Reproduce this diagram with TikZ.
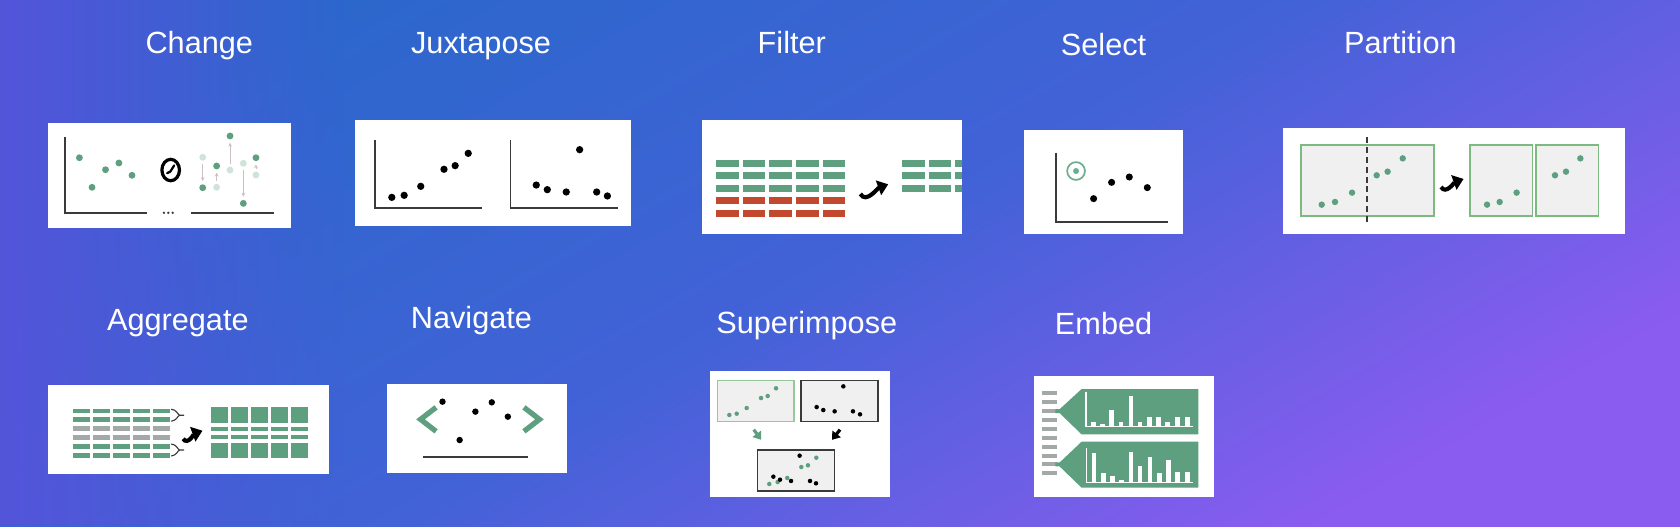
\documentclass[tikz,border=0pt]{standalone}
\usepackage{fontspec}
\setmainfont{Liberation Sans}
\usetikzlibrary{arrows.meta,fadings}
\definecolor{bgtop}{HTML}{2C67CC}
\definecolor{bgmid}{HTML}{4262D7}
\definecolor{bgbot}{HTML}{8B5CF0}
\definecolor{bgleft}{HTML}{5455DA}
\definecolor{icgreen}{HTML}{5E9F80}
\definecolor{icpale}{HTML}{CFE4D9}
\definecolor{icred}{HTML}{C2492E}
\definecolor{icgray}{HTML}{A3A9A6}
\definecolor{icdark}{HTML}{3A3A3A}
\definecolor{icfill}{HTML}{F0F0F0}
\definecolor{icframe}{HTML}{7DBA80}
\definecolor{icring}{HTML}{6AAE8E}
\definecolor{icstep}{HTML}{CDBFC5}
\tikzset{
  title/.style={text=white, font=\fontsize{16.3}{19}\selectfont, anchor=base, inner sep=0pt},
  panel/.style={fill=white},
  axisline/.style={draw=icdark, line width=1pt},
  turnarrow/.style={line width=2.2pt, -{Triangle[length=5.5pt,width=8pt]}},
  smallarrow/.style={line width=1.7pt, -{Triangle[length=4pt,width=5.5pt]}},
  stepline/.style={draw=icstep, line width=0.4pt, -{Stealth[length=2pt,width=2pt]}, shorten <=3.4pt, shorten >=3.6pt},
  plotframe/.style={fill=icfill, draw=icframe, line width=0.9pt},
}

\begin{document}
\begin{tikzpicture}[x=0.02cm, y=-0.02cm]
%%%%% BACKGROUND %%%%%
\useasboundingbox (0,0) rectangle (1568,491);
\shade[top color=bgtop, bottom color=bgbot, middle color=bgmid, shading angle=30] (0,0) rectangle (1568,491);
\fill[bgleft, path fading=east] (0,0) rectangle (320,491);

%%%%% TITLES %%%%%
\node[title] (change) at (186,49.5) {Change};
\node[title] (juxtapose) at (449,49.5) {Juxtapose};
\node[title] (filter) at (739,49.5) {Filter};
\node[title] (select) at (1030,51.5) {Select};
\node[title] (partition) at (1307,49.5) {Partition};
\node[title] (aggregate) at (166,308.5) {Aggregate};
\node[title] (navigate) at (440,306.5) {Navigate};
\node[title] (superimpose) at (753,311.5) {Superimpose};
\node[title] (embed) at (1030,312.5) {Embed};

%%%%% CHANGE %%%%%
\fill[panel] (45,115) rectangle (272,213);
\draw[axisline] (60.5,127.6) -- (60.5,199.1) -- (137.6,199.1);
\foreach \p in {(74.1,147.2),(85.9,174.8),(98.5,158.4),(111,152.1),(123.2,163.6)}
  \fill[icgreen] \p circle (3.2);
\draw[line width=1.7pt] (159.3,158.7) ellipse (8.2 and 10);
\draw[line width=1.2pt, line cap=round, line join=round] (156,161.6) -- (158.9,160.2) -- (162.6,154.4);
\foreach \x in {153,157.1,161.2} \fill[icdark] (\x,198.6) circle (1.2);
\draw[axisline] (178.2,199.1) -- (255.7,199.1);
\foreach \x/\a/\b in {189.2/146.8/175.2, 202.2/174.8/154.9, 214.7/158.7/126.9, 227.1/152.4/189.8, 238.9/163.3/147.2} {
  \draw[stepline] (\x,\a) -- (\x,\b);
  \fill[icpale] (\x,\a) circle (3.2);
  \fill[icgreen] (\x,\b) circle (3.2);
}

%%%%% JUXTAPOSE %%%%%
\fill[panel] (331,112) rectangle (589,211);
\draw[axisline] (350.2,130.7) -- (350.2,193.8) -- (449.5,193.8);
\draw[axisline] (476.5,130.7) -- (476.5,193.8) -- (576.8,193.8);
\foreach \p in {(365.7,184.2),(377.2,182.3),(392.7,173.9),(414.4,158),(424.8,154.6),(437,143.1),
  (500.5,172.7),(510.8,177),(528.5,179.2),(541,139.7),(556.9,179.2),(566.9,182.9)}
  \fill[black] \p circle (3.4);

%%%%% FILTER %%%%%
\fill[panel] (655,112) rectangle (898,218);
\foreach \i in {0,...,4} {
  \foreach \j in {0,1,2} \fill[icgreen] ({668.3+24.9*\i},{149.3+11.65*\j}) rectangle +(21,6.5);
  \foreach \j in {3,4} \fill[icred] ({668.3+24.9*\i},{149.3+11.65*\j}) rectangle +(21,6.5);
}
\foreach \x/\w in {841.9/21, 866.8/21, 891.6/6.4}
  \foreach \j in {0,1,2} \fill[icgreen] (\x,{149.3+11.65*\j}) rectangle +(\w,6.5);
\draw[turnarrow] (803,181) to[out=-60, in=-160] (829,172);

%%%%% SELECT %%%%%
\fill[panel] (956,121) rectangle (1104,218);
\draw[axisline] (985.3,142.5) -- (985.3,207.5) -- (1090.4,207.5);
\draw[icring, line width=0.9pt] (1004.3,159.6) circle (8.3);
\fill[icring] (1004.3,159.6) circle (2.8);
\foreach \p in {(1020.7,185.4),(1037.5,170.2),(1054,165.2),(1070.8,175.1)}
  \fill[black] \p circle (3.3);

%%%%% PARTITION %%%%%
\fill[panel] (1197,119) rectangle (1517,218);
\draw[plotframe] (1214,135.3) rectangle (1338.4,201.6);
\draw[icdark, line width=1.1pt, dash pattern=on 3.2pt off 2pt] (1275.6,128.2) -- (1275.6,209.1);
\foreach \p in {(1233.6,191),(1246,188.5),(1261.9,179.8),(1284.9,163.6),(1295.1,160.2),(1309.2,147.8)}
  \fill[icgreen] \p circle (3);
\draw[turnarrow] (1345,174.5) to[out=-60, in=-160] (1366,167);
\draw[plotframe] (1372,135.3) rectangle (1430.2,201.6);
\draw[plotframe] (1433.6,135.3) rectangle (1491.8,201.6);
\foreach \p in {(1387.9,191),(1399.7,188.5),(1415.5,179.8),(1451.3,163.6),(1461.6,160.2),(1475,147.8)}
  \fill[icgreen] \p circle (3);

%%%%% AGGREGATE %%%%%
\fill[panel] (45,359) rectangle (307,442);
\foreach \j/\c in {0/icgreen,1/icgreen,2/icgray,3/icgray,4/icgreen,5/icgreen}
  \foreach \i in {0,...,4}
    \fill[\c] ({67.8+18.67*\i},{381.3+8.34*\j}) rectangle +(16.2,4.1);
\foreach \y in {387.5,420}
  \draw[icdark, line width=0.6pt] (159.8,\y-5.6) .. controls (165,\y-5) and (165.5,\y-1) .. (167.6,\y)
    .. controls (165.5,\y+1) and (165,\y+5) .. (159.8,\y+5.6) (167.6,\y) -- (171.8,\y);
\draw[turnarrow] (171,409.5) to[out=-60, in=-160] (189,402);
\foreach \i in {0,...,4} {
  \fill[icgreen] ({196.6+18.67*\i},380.2) rectangle +(16.5,14.9);
  \fill[icgreen] ({196.6+18.67*\i},398.3) rectangle +(16.5,4);
  \fill[icgreen] ({196.6+18.67*\i},405.9) rectangle +(16.5,4);
  \fill[icgreen] ({196.6+18.67*\i},413.8) rectangle +(16.5,14);
}

%%%%% NAVIGATE %%%%%
\fill[panel] (361,358) rectangle (529,441);
\draw[icgreen, line width=2.8pt] (407,380.2) -- (392.5,391.4) -- (407,402.6);
\draw[icgreen, line width=2.8pt] (489,380.2) -- (503.5,391.4) -- (489,402.6);
\foreach \p in {(413,374.9),(429,410.7),(443.7,384.2),(459,375.5),(474,388.9)}
  \fill[black] \p circle (3);
\draw[icdark, line width=1pt] (394.7,426.8) -- (493,426.8);

%%%%% SUPERIMPOSE %%%%%
\fill[panel] (663,346) rectangle (831,464);
\draw[fill=icfill, draw=icframe!80, line width=0.6pt] (669.5,355.3) rectangle (741.1,393.6);
\draw[fill=icfill, draw=icdark, line width=0.7pt] (747.6,355.3) rectangle (819.5,393.6);
\draw[fill=icfill, draw=icdark, line width=0.7pt] (706.8,420) rectangle (779,458.3);
\foreach \p in {(680.7,387.3),(687.6,386.1),(696.9,380.8),(710.3,371.5),(716.5,369.6),(724.3,362.4),
  (718,451.7),(725.8,449.9),(734.8,446.1),(747.9,435.9),(754.1,434.3),(761.9,427.2)}
  \fill[icgreen] \p circle (2.1);
\foreach \p in {(787.1,360.6),(762.2,379.9),(768.4,382.7),(779,383.9),(796.1,383.9),(802.7,386.7),
  (746.3,425.3),(721.8,444.9),(728,447.7),(738.3,448.9),(756,448.9),(761.6,451.1)}
  \fill[black] \p circle (2.1);
\draw[icgreen, smallarrow] (703.5,401) -- (710.5,410.5);
\draw[black, smallarrow] (784,401) -- (776.5,410.5);

%%%%% EMBED %%%%%
\fill[panel] (965,351) rectangle (1133,464);
\foreach \k in {0,...,9} \fill[icgray] (972.2,{365.25+8.3*\k}) rectangle +(14,3.7);
\fill[icgreen] (1009.5,363.1) -- (1118.4,363.1) -- (1118.4,405.4) -- (1009.5,405.4) -- (989,385.55)
  -- (985,385.55) -- (985,381.85) -- (989,381.85) -- cycle;
\fill[icgreen] (1009.5,412.2) -- (1118.4,412.2) -- (1118.4,455.2) -- (1009.5,455.2) -- (989,435.35)
  -- (985,435.35) -- (985,431.65) -- (989,431.65) -- cycle;
\draw[white, line width=0.6pt] (1013.6,365.6) -- (1013.6,398.2) -- (1113.8,398.2);
\draw[white, line width=0.6pt] (1014.2,418.4) -- (1014.2,450.2) -- (1113.8,450.2);
\foreach \x/\t in {1020.4/393.6, 1029.2/396, 1037.6/382.7, 1046.3/393.6, 1055.6/369.3, 1064/394.2,
  1072.7/388.9, 1081.1/389.5, 1089.8/394.2, 1098.8/388.9, 1108.2/388.9}
  \fill[white] (\x-2.2,398.2) rectangle (\x+2.2,\t);
\foreach \x/\t in {1021.1/423.1, 1029.8/441.8, 1038.2/444, 1046.9/448, 1055.6/421.6, 1064/434.6,
  1073.3/426.2, 1082/441.8, 1090.4/429.3, 1099.1/440.8, 1108.2/440.8}
  \fill[white] (\x-2.2,450.2) rectangle (\x+2.2,\t);
%%%%% END %%%%%
\end{tikzpicture}
\end{document}
